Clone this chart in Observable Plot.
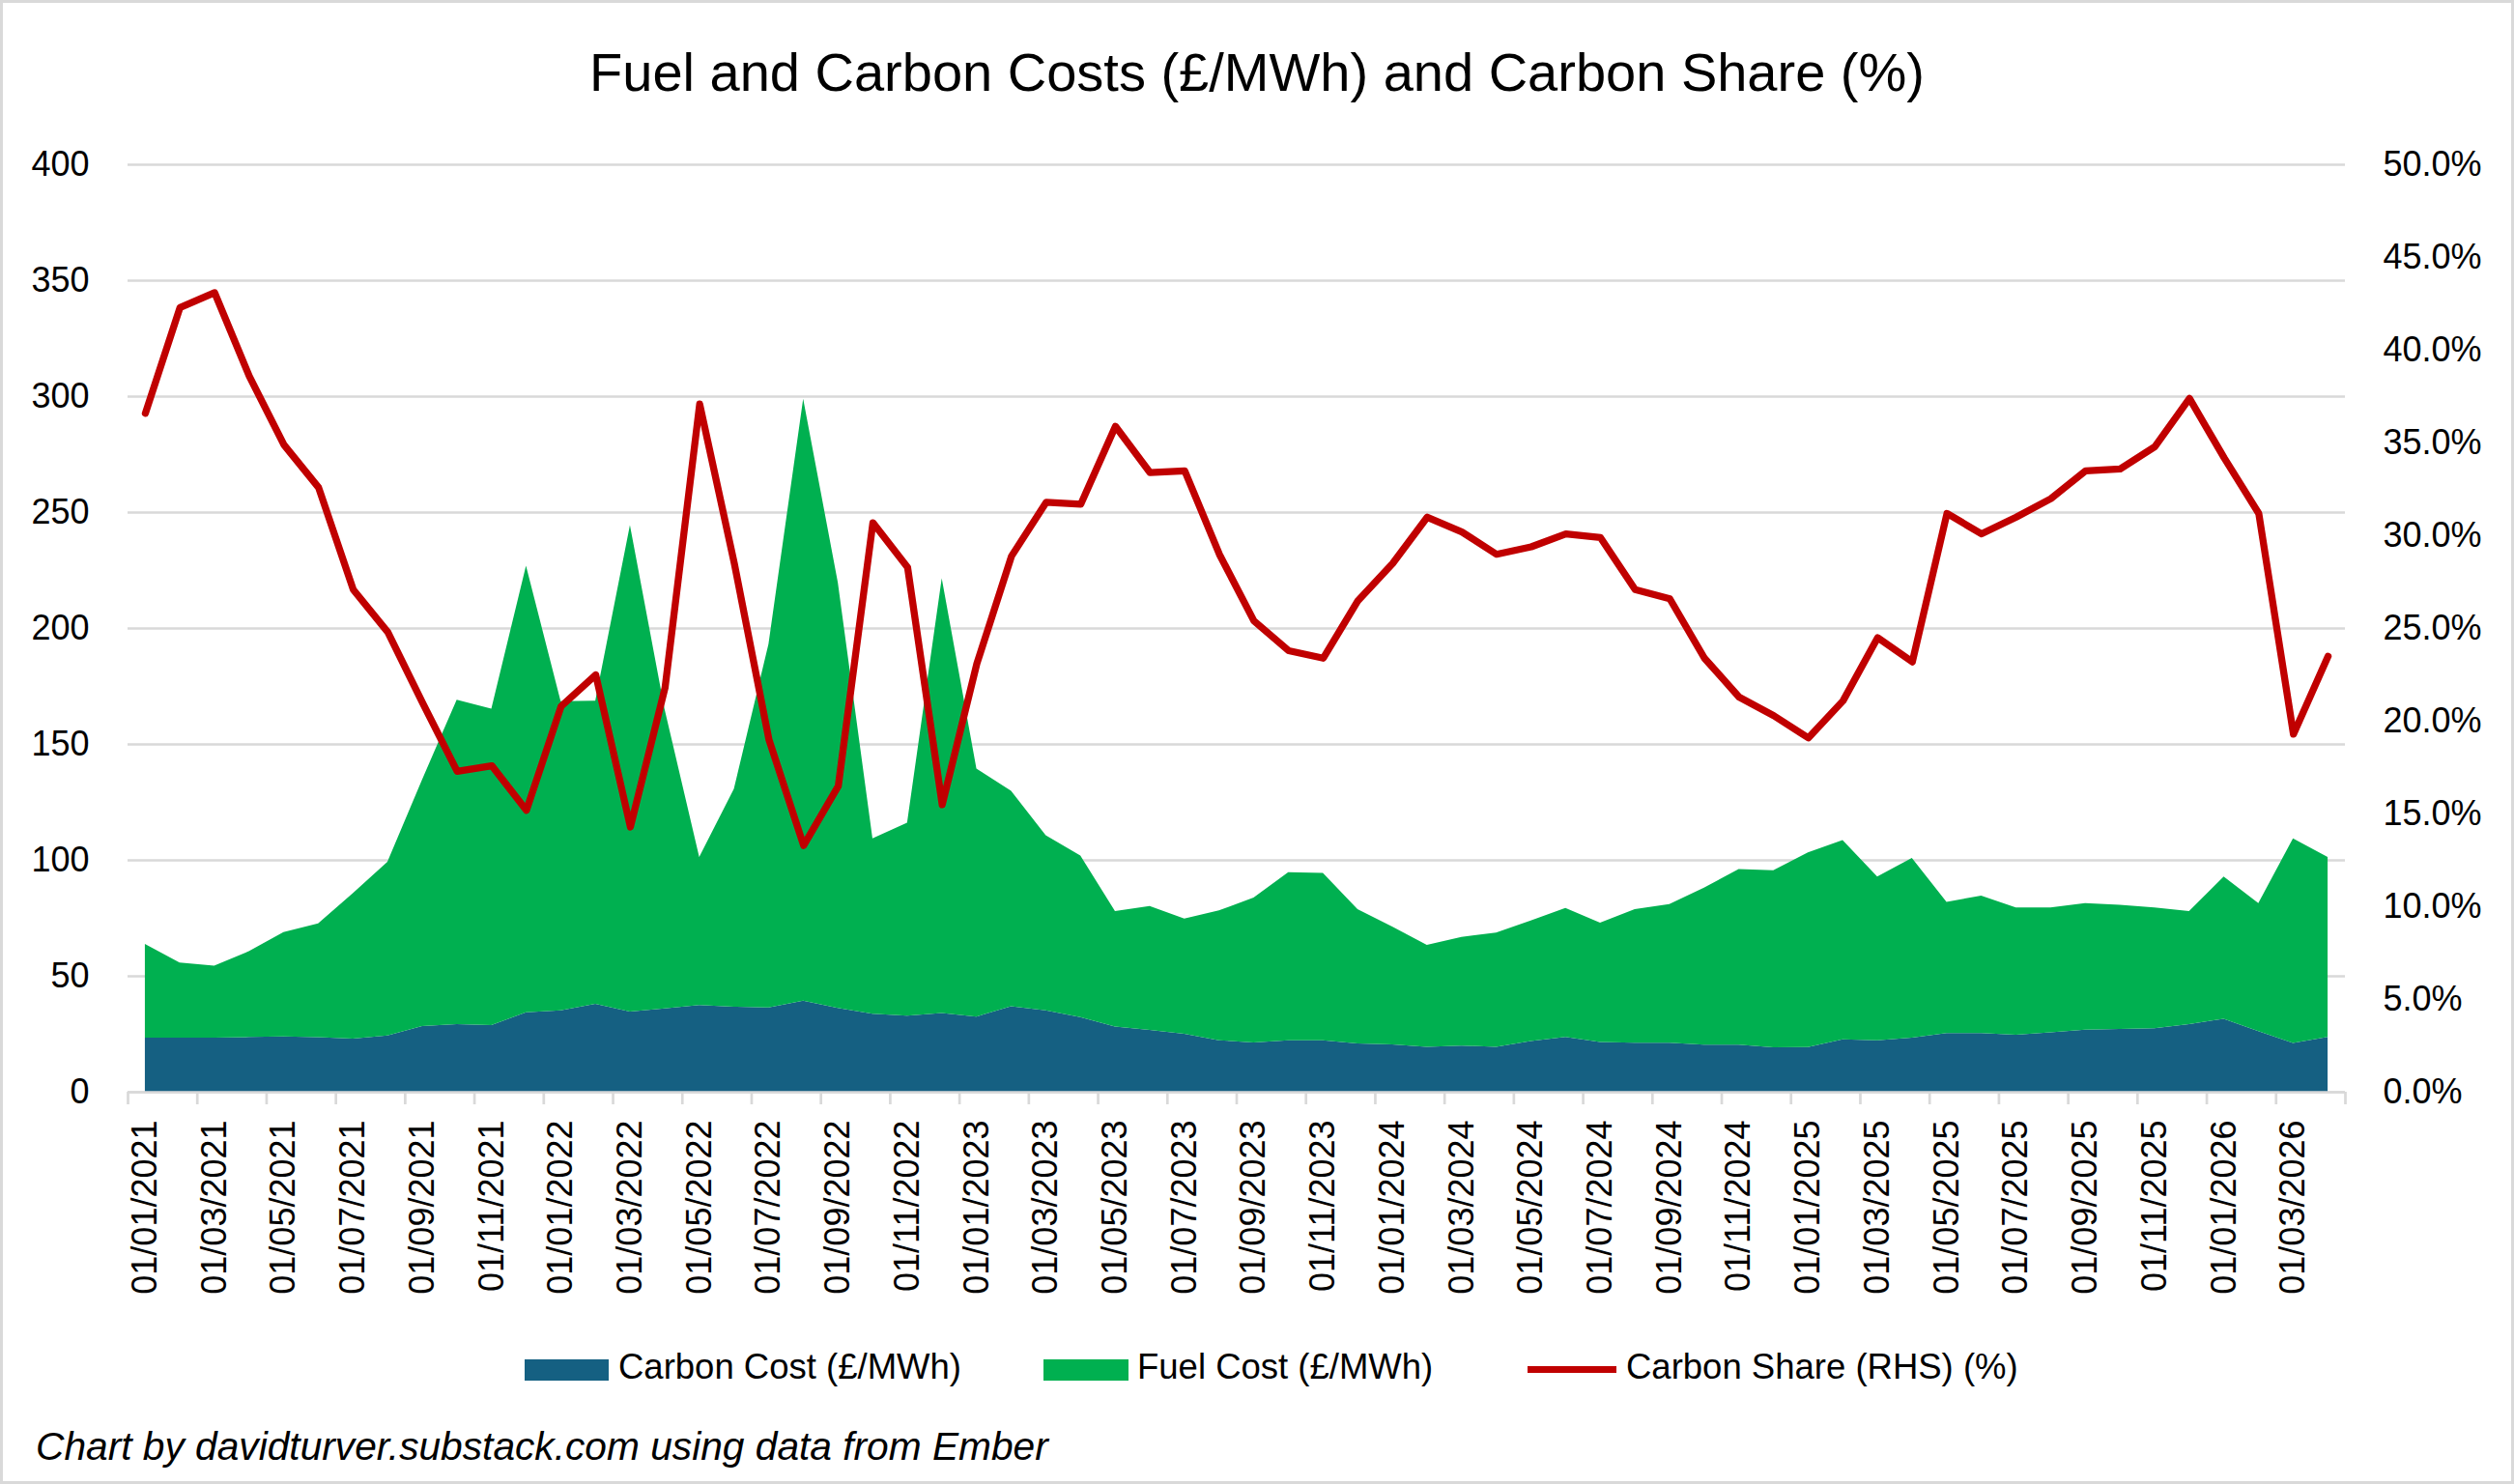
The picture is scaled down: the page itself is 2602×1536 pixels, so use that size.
<!DOCTYPE html>
<html>
<head>
<meta charset="utf-8">
<script src="https://cdn.jsdelivr.net/npm/d3@7"></script>
<script src="https://cdn.jsdelivr.net/npm/@observablehq/plot@0.6"></script>
<style>
  html, body { margin: 0; padding: 0; background: #fff; }
  #chart { position: relative; width: 2602px; height: 1536px; background: #fff; overflow: hidden;
           font-family: "Liberation Sans", Arial, sans-serif; color: #000; }
  #frame { position: absolute; left: 0; top: 0; width: 2602px; height: 1536px; box-sizing: border-box;
           border: 3px solid #d9d9d9; pointer-events: none; }
  #title { position: absolute; left: 0; width: 2602px; top: 47px; line-height: 56px; font-size: 56px; text-align: center; white-space: nowrap; }
  #plot { position: absolute; left: 0; top: 120px; }
  .lg-text { position: absolute; top: 1397px; font-size: 36.5px; line-height: 36px; white-space: nowrap; }
  .lg-sw { position: absolute; }
  #caption { position: absolute; left: 37px; top: 1477px; font-size: 40.7px; line-height: 40px; font-style: italic; white-space: nowrap; }
</style>
</head>
<body>
<div id="chart">
  <div id="title">Fuel and Carbon Costs (£/MWh) and Carbon Share (%)</div>
  <div id="plot"></div>
  <div class="lg-sw" style="left:543px;top:1407px;width:87px;height:22px;background:#156082"></div>
  <div class="lg-text" style="left:640px">Carbon Cost (£/MWh)</div>
  <div class="lg-sw" style="left:1080px;top:1407px;width:88px;height:22px;background:#00B050"></div>
  <div class="lg-text" style="left:1177px">Fuel Cost (£/MWh)</div>
  <div class="lg-sw" style="left:1581px;top:1414px;width:92px;height:7px;background:#C00000"></div>
  <div class="lg-text" style="left:1683px">Carbon Share (RHS) (%)</div>
  <div id="caption">Chart by davidturver.substack.com using data from Ember</div>
  <div id="frame"></div>
</div>
<script>
// Categories (monthly)
const months = [
  "01/01/2021","01/02/2021","01/03/2021","01/04/2021","01/05/2021","01/06/2021","01/07/2021","01/08/2021","01/09/2021","01/10/2021","01/11/2021","01/12/2021",
  "01/01/2022","01/02/2022","01/03/2022","01/04/2022","01/05/2022","01/06/2022","01/07/2022","01/08/2022","01/09/2022","01/10/2022","01/11/2022","01/12/2022",
  "01/01/2023","01/02/2023","01/03/2023","01/04/2023","01/05/2023","01/06/2023","01/07/2023","01/08/2023","01/09/2023","01/10/2023","01/11/2023","01/12/2023",
  "01/01/2024","01/02/2024","01/03/2024","01/04/2024","01/05/2024","01/06/2024","01/07/2024","01/08/2024","01/09/2024","01/10/2024","01/11/2024","01/12/2024",
  "01/01/2025","01/02/2025","01/03/2025","01/04/2025","01/05/2025","01/06/2025","01/07/2025","01/08/2025","01/09/2025","01/10/2025","01/11/2025","01/12/2025",
  "01/01/2026","01/02/2026","01/03/2026","01/04/2026"
];

// Series values
const carbonCost = [23.3,23.3,23.3,23.6,23.9,23.5,22.9,24.3,28.3,29.2,28.8,34.3,35.1,37.9,34.6,35.9,37.4,36.7,36.4,39.3,
  36.1,33.6,32.8,34.0,32.4,36.9,35.1,32.2,28.1,26.7,25.0,22.2,21.3,22.2,22.2,20.8,20.4,19.4,19.9,19.4,
  21.9,23.6,21.5,21.1,21.1,20.3,20.3,19.2,19.3,22.6,22.2,23.3,25.3,25.3,24.6,25.6,26.8,27.1,27.4,29.2,
  31.5,26.1,21.0,23.6];
const fuelCost = [40.4,32.4,31.1,37.0,45.0,49.1,62.7,74.9,106.3,139.9,136.4,192.6,133.3,130.7,209.8,129.1,63.9,93.9,156.7,259.6,
  183.6,75.7,83.2,187.5,107.0,92.9,75.5,69.7,49.8,53.4,49.7,56.0,62.4,72.5,72.2,57.9,50.9,43.9,46.9,49.2,
  52.0,55.7,51.4,57.6,59.8,67.7,75.7,76.3,83.9,85.9,70.6,77.5,56.6,59.3,54.9,53.9,54.6,53.5,52.1,48.7,
  61.3,55.3,88.3,77.7];
const carbonShare = [36.6,42.3,43.1,38.6,34.9,32.6,27.1,24.8,21.0,17.3,17.6,15.2,20.8,22.5,14.3,21.8,37.1,28.5,19.0,13.3,
  16.5,30.7,28.3,15.5,23.1,28.9,31.8,31.7,35.9,33.4,33.5,29.0,25.4,23.8,23.4,26.5,28.5,31.0,30.2,29.0,
  29.4,30.1,29.9,27.1,26.6,23.4,21.3,20.3,19.1,21.1,24.5,23.2,31.2,30.1,31.0,32.0,33.5,33.6,34.8,37.4,
  34.2,31.2,19.3,23.5];

// Series names & tick values
const seriesNames = ["Carbon Cost (£/MWh)", "Fuel Cost (£/MWh)"];
const costTicks = [0, 50, 100, 150, 200, 250, 300, 350, 400];
const shareTicks = [0, 5, 10, 15, 20, 25, 30, 35, 40, 45, 50];

const k = costTicks[costTicks.length - 1] / shareTicks[shareTicks.length - 1]; // right axis mapping

const stacked = seriesNames.flatMap((s, si) =>
  months.map((m, i) => ({ i, series: s, value: si === 0 ? carbonCost[i] : fuelCost[i] })));
const shareData = months.map((m, i) => ({ i, share: carbonShare[i] }));
const labelTicks = months.map((m, i) => i).filter(i => i % 2 === 0);
const boundaryTicks = d3.range(0, months.length + 1, 2).map(i => i - 0.5);

const plot = Plot.plot({
  width: 2602,
  height: 1280,
  marginLeft: 132,
  marginRight: 175,
  marginTop: 50,
  marginBottom: 270,
  style: { fontFamily: '"Liberation Sans", Arial, sans-serif', fontSize: "36px", color: "#000", background: "transparent", overflow: "visible" },
  x: { domain: [-0.5, months.length - 0.5], label: null },
  y: { domain: [0, 400], label: null },
  color: { domain: seriesNames, range: ["#156082", "#00B050"] },
  marks: [
    Plot.gridY(costTicks, { stroke: "#d9d9d9", strokeOpacity: 1, strokeWidth: 2.7 }),
    Plot.areaY(stacked, { x: "i", y: "value", z: "series", fill: "series", order: seriesNames }),
    Plot.ruleY([0], { stroke: "#d9d9d9", strokeWidth: 2.7 }),
    Plot.axisX({ ticks: boundaryTicks, tickSize: 13, stroke: "#d9d9d9", strokeOpacity: 1, strokeWidth: 2.7, tickFormat: () => "", label: null }),
    Plot.axisX({ ticks: labelTicks, tickSize: 0, tickPadding: 29, tickRotate: -90, tickFormat: i => months[i], label: null }),
    Plot.axisY({ ticks: costTicks, tickSize: 0, tickPadding: 40, label: null }),
    Plot.axisY({ anchor: "right", ticks: shareTicks.map(p => p * k), tickSize: 0, tickPadding: 39,
                 tickFormat: v => (v / k).toFixed(1) + "%", label: null }),
    Plot.lineY(shareData, { x: "i", y: d => d.share * k, stroke: "#C00000", strokeWidth: 7.3, strokeLinejoin: "round", strokeLinecap: "round" })
  ]
});
document.getElementById("plot").appendChild(plot);
</script>
</body>
</html>
